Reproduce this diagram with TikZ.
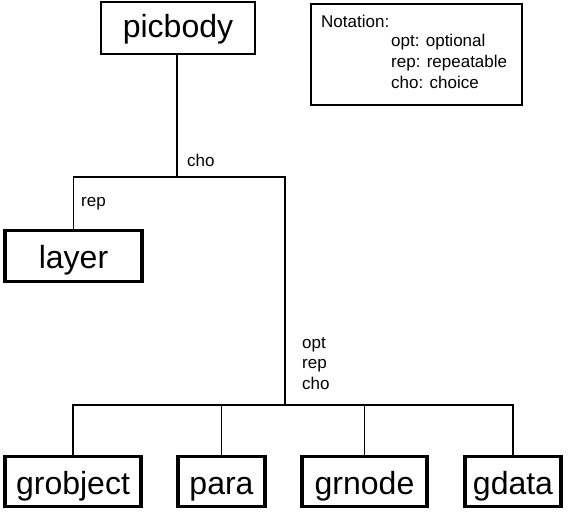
\documentclass[tikz,border=0pt]{standalone}
\usepackage{fontspec}
\setmainfont{Liberation Sans}
\begin{document}
\begin{tikzpicture}[x=1pt,y=-1pt,
  conn/.style={line width=1.5pt, black},
  thinbox/.style={draw, line width=2pt, inner sep=0pt, font=\fontsize{32}{38}\selectfont, text height=19pt, text depth=0pt},
  thickbox/.style={draw, line width=3.8pt, inner sep=0pt, minimum height=50pt, font=\fontsize{32}{38}\selectfont, text height=25pt, text depth=0pt},
  lab/.style={anchor=base west, inner sep=0pt, font=\fontsize{17}{20}\selectfont}]
\useasboundingbox (0,0) rectangle (573,512);
\fill[white] (0,0) rectangle (573,512);
% boxes
\node[thinbox, minimum width=154pt, minimum height=52pt] (picbody) at (178,28) {picbody};
\node[thickbox, minimum width=137pt, minimum height=51pt] (layer) at (73.5,256) {layer};
\node[thickbox, minimum width=136pt] (grobject) at (73,481.5) {grobject};
\node[thickbox, minimum width=87pt] (para) at (221.5,481.5) {para};
\node[thickbox, minimum width=125pt] (grnode) at (364.5,481.5) {grnode};
\node[thickbox, minimum width=96pt] (gdata) at (513,481.5) {gdata};
% notation
\node[draw, line width=2pt, minimum width=211pt, minimum height=101pt, inner sep=0pt] (notation) at (416.5,54.5) {};
\node[lab] (n0) at (321,27.3) {Notation:};
\node[lab] (n1) at (391,46.7) {opt: optional};
\node[lab] (n2) at (391,67.7) {rep: repeatable};
\node[lab] (n3) at (391,88.3) {cho: choice};
% junctions
\coordinate (j1) at (177,177);
\coordinate (j2) at (285,405);
% connectors
\draw[conn] (picbody.south -| j1) -- (j1);
\draw[conn] (layer.north) |- (j1) -| (j2);
\draw[conn] (grobject.north) |- (j2) -| (gdata.north);
\draw[conn] (para.north) -- (para.north |- j2);
\draw[conn] (grnode.north) -- (grnode.north |- j2);
% labels
\node[lab] (l1) at (187,166.5) {cho};
\node[lab] (l2) at (81,206) {rep};
\node[lab] (l3) at (302,348.5) {opt};
\node[lab] (l4) at (302,368.7) {rep};
\node[lab] (l5) at (302,389) {cho};
\end{tikzpicture}
\end{document}
